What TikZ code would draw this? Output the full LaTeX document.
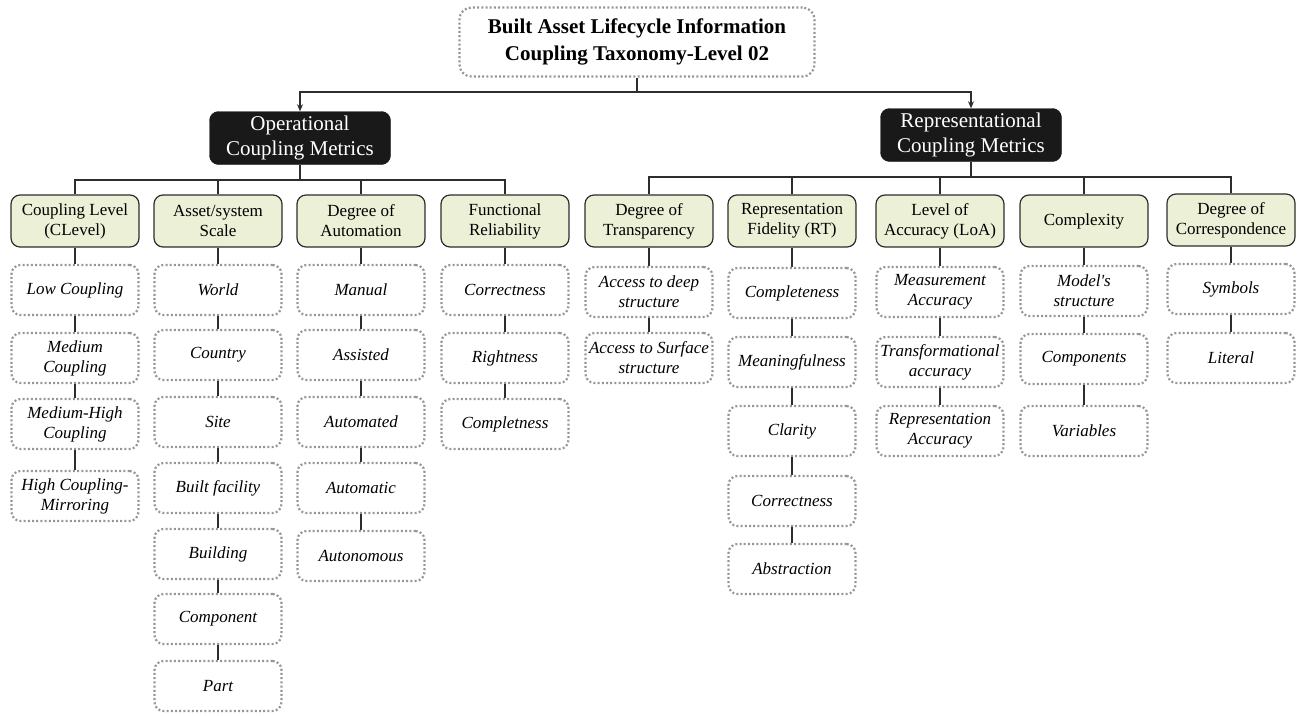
\documentclass[tikz,border=0pt]{standalone}
\usepackage{fontspec}
\setmainfont{Liberation Serif}[Ligatures=TeXOff]
\usetikzlibrary{arrows.meta}
\definecolor{catfill}{RGB}{236,240,214}
\definecolor{linec}{RGB}{45,45,45}
\definecolor{dotc}{RGB}{150,150,150}
\begin{document}
\begin{tikzpicture}[x=1pt,y=-1pt,
 titlebox/.style={draw=dotc, line width=2.2pt, dash pattern=on 2pt off 2.2pt, rounded corners=12pt, minimum width=355, minimum height=69, align=center, font=\fontsize{21}{27}\selectfont\bfseries},
 metricbox/.style={fill=black!90, draw=black!90, rounded corners=9pt, text=white, minimum width=181, minimum height=53, align=center, font=\fontsize{21}{25}\selectfont},
 catbox/.style={fill=catfill, draw=linec, line width=1.2pt, rounded corners=9pt, minimum width=128, minimum height=52, inner xsep=1pt, align=center, font=\fontsize{17}{20}\selectfont},
 leafbox/.style={draw=dotc, line width=2.2pt, dash pattern=on 2pt off 2.2pt, rounded corners=9pt, minimum width=127, minimum height=50, inner xsep=1pt, align=center, font=\fontsize{17}{20}\selectfont\itshape},
 conn/.style={draw=linec, line width=1.5pt},
 arr/.style={conn, -{Stealth[length=7pt,width=6pt]}}]
\useasboundingbox (0,0) rectangle (1301,715);

% title and metric boxes
\node[titlebox] (title) at (637,42) {Built Asset Lifecycle Information\\Coupling Taxonomy-Level 02};
\node[metricbox] (op) at (300,138) {Operational\\Coupling Metrics};
\node[metricbox] (rep) at (971,135) {Representational\\Coupling Metrics};
\coordinate (tb) at (637,92);
\draw[arr] (title.south) -- (tb) -| (op.north);
\draw[arr] (tb) -| (rep.north);

% categories
\node[catbox] (A) at (75,221) {Coupling Level\\(CLevel)};
\node[catbox] (B) at (218,221) {Asset/system\\Scale};
\node[catbox] (C) at (361,221) {Degree of\\Automation};
\node[catbox] (D) at (505,221) {Functional\\Reliability};
\node[catbox] (E) at (649,221) {Degree of\\Transparency};
\node[catbox] (F) at (792,221) {Representation\\Fidelity (RT)};
\node[catbox] (G) at (940,221) {Level of\\Accuracy (LoA)};
\node[catbox] (H) at (1084,221) {Complexity};
\node[catbox] (I) at (1231,220) {Degree of\\Correspondence};

\coordinate (ob) at (300,180);
\coordinate (rb) at (971,177);
\draw[conn] (op.south) -- (ob);
\draw[conn] (rep.south) -- (rb);
\foreach \n in {A,B,C,D} \draw[conn] (ob) -| (\n.north);
\foreach \n in {E,F,G,H,I} \draw[conn] (rb) -| (\n.north);

% leaves column 1
\node[leafbox] (a1) at (75,290) {Low Coupling};
\node[leafbox] (a2) at (75,358) {Medium\\Coupling};
\node[leafbox] (a3) at (75,424) {Medium-High\\Coupling};
\node[leafbox] (a4) at (75,496) {High Coupling-\\Mirroring};
% column 2
\node[leafbox] (b1) at (218,290) {World};
\node[leafbox] (b2) at (218,355) {Country};
\node[leafbox] (b3) at (218,422) {Site};
\node[leafbox] (b4) at (218,488) {Built facility};
\node[leafbox] (b5) at (218,554) {Building};
\node[leafbox] (b6) at (218,619) {Component};
\node[leafbox] (b7) at (218,686) {Part};
% column 3
\node[leafbox] (c1) at (361,290) {Manual};
\node[leafbox] (c2) at (361,355) {Assisted};
\node[leafbox] (c3) at (361,422) {Automated};
\node[leafbox] (c4) at (361,488) {Automatic};
\node[leafbox] (c5) at (361,556) {Autonomous};
% column 4
\node[leafbox] (d1) at (505,290) {Correctness};
\node[leafbox] (d2) at (505,358) {Rightness};
\node[leafbox] (d3) at (505,424) {Completness};
% column 5
\node[leafbox] (e1) at (649,292) {Access to deep\\structure};
\node[leafbox] (e2) at (649,358) {Access to Surface\\structure};
% column 6
\node[leafbox] (f1) at (792,293) {Completeness};
\node[leafbox] (f2) at (792,362) {Meaningfulness};
\node[leafbox] (f3) at (792,431) {Clarity};
\node[leafbox] (f4) at (792,501) {Correctness};
\node[leafbox] (f5) at (792,569) {Abstraction};
% column 7
\node[leafbox] (g1) at (940,292) {Measurement\\Accuracy};
\node[leafbox] (g2) at (940,362) {Transformational\\accuracy};
\node[leafbox] (g3) at (940,431) {Representation\\Accuracy};
% column 8
\node[leafbox] (h1) at (1084,291) {Model's\\structure};
\node[leafbox] (h2) at (1084,359) {Components};
\node[leafbox] (h3) at (1084,431) {Variables};
% column 9
\node[leafbox] (i1) at (1231,289) {Symbols};
\node[leafbox] (i2) at (1231,358) {Literal};

% vertical connectors
\foreach \u/\v in {A/a1,a1/a2,a2/a3,a3/a4,
  B/b1,b1/b2,b2/b3,b3/b4,b4/b5,b5/b6,b6/b7,
  C/c1,c1/c2,c2/c3,c3/c4,c4/c5,
  D/d1,d1/d2,d2/d3,
  E/e1,e1/e2,
  F/f1,f1/f2,f2/f3,f3/f4,f4/f5,
  G/g1,g1/g2,g2/g3,
  H/h1,h1/h2,h2/h3,
  I/i1,i1/i2}
  \draw[conn] (\u.south) -- (\v.north);
\end{tikzpicture}
\end{document}
